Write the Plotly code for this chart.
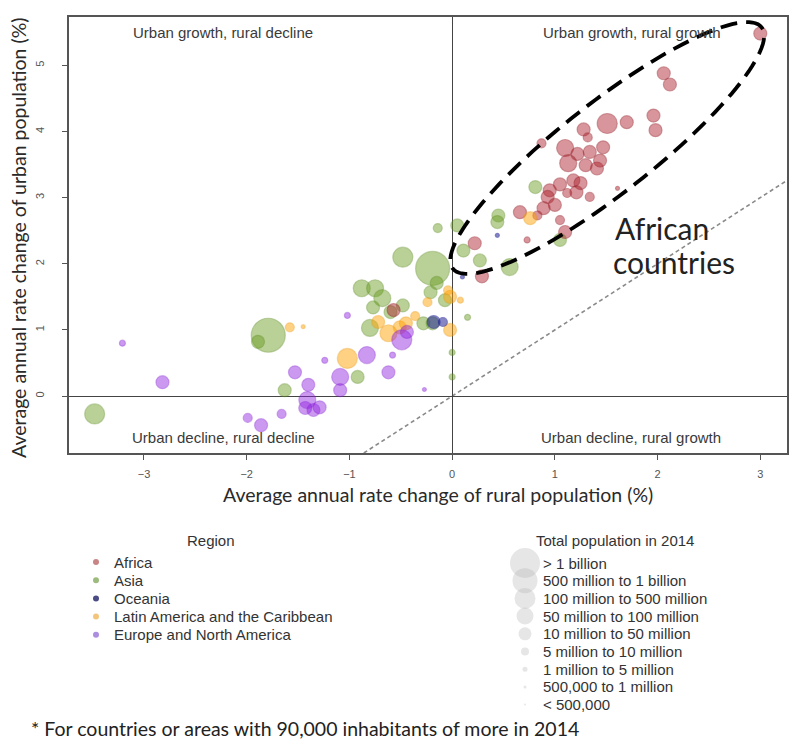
import math
import plotly.graph_objects as go

# ---------------------------------------------------------------------------
# Average annual rate of change of rural (x) and urban (y) population, %.
# Each country also carries a population-size class (index into size_labels).
# ---------------------------------------------------------------------------
africa_rural = [3.00, 2.06, 2.12, 1.96, 1.98, 1.51, 1.70, 1.28, 1.32, 0.87, 1.10, 1.22, 1.13,
                1.34, 1.44, 1.41, 1.30, 1.18, 1.05, 1.25, 1.21, 0.95, 1.12, 0.93, 1.00, 0.89,
                0.66, 1.10, 0.22, 0.29, -0.57, 1.05, 1.34, 0.83, 0.73, 1.47, 1.61]
africa_urban = [5.48, 4.88, 4.71, 4.24, 4.02, 4.12, 4.14, 4.03, 3.91, 3.82, 3.75, 3.66, 3.52,
                3.69, 3.56, 3.44, 3.49, 3.26, 3.20, 3.22, 3.08, 3.11, 3.07, 3.01, 2.89, 2.84,
                2.78, 2.48, 2.31, 1.81, 1.30, 2.66, 3.01, 2.73, 2.36, 3.76, 3.14]
africa_size = [4, 4, 4, 4, 4, 2, 4, 4, 5, 5, 3, 4, 3,
               4, 4, 4, 4, 4, 4, 4, 4, 4, 5, 4, 4, 4,
               4, 4, 4, 4, 4, 5, 5, 5, 6, 4, 7]

asia_rural = [-3.48, -1.79, -1.89, -0.19, -0.48, -0.88, -0.75, -0.68, -0.77, -0.80, -0.28,
              -0.19, -0.21, -0.15, -0.14, 0.05, 0.81, 0.45, 0.44, 0.27, 0.56, 1.05, 0.00,
              0.00, -1.63, -0.92, -0.48, 0.11, -0.07, -0.60, 0.15]
asia_urban = [-0.27, 0.92, 0.82, 1.93, 2.10, 1.63, 1.63, 1.48, 1.34, 1.03, 1.10,
              1.10, 1.57, 1.71, 2.54, 2.58, 3.16, 2.73, 2.63, 2.05, 1.95, 2.36, 0.66,
              0.29, 0.09, 0.29, 1.37, 2.20, 1.45, 1.27, 1.19]
asia_size = [2, 0, 4, 0, 2, 3, 3, 3, 4, 3, 4,
             4, 4, 4, 5, 4, 4, 4, 4, 4, 3, 4, 6,
             6, 4, 4, 4, 4, 4, 4, 6]

oceania_rural = [-0.18, -0.09, 0.44, 0.10]
oceania_urban = [1.12, 1.12, 2.43, 1.80]
oceania_size = [4, 5, 7, 7]

latam_rural = [-1.58, -1.02, -0.51, -0.45, -0.24, -0.02, -0.02, 0.76, -0.04, -0.72, -0.36,
               -0.62, 0.08, -1.45]
latam_urban = [1.04, 0.57, 1.04, 1.10, 1.42, 1.50, 1.00, 2.69, 1.60, 1.12, 1.21,
               0.95, 1.45, 1.05]
latam_size = [5, 2, 4, 4, 5, 4, 4, 4, 5, 4, 5,
              3, 6, 7]

europe_rural = [-2.82, -1.99, -1.86, -1.53, -1.40, -1.41, -1.35, -1.43, -1.66, -1.09, -1.09,
                -0.83, -0.49, -0.44, -0.62, -0.58, -1.24, -1.02, -3.21, -1.29, -0.27]
europe_urban = [0.21, -0.33, -0.44, 0.36, 0.17, -0.06, -0.21, -0.18, -0.27, 0.29, 0.09,
                0.62, 0.85, 0.97, 0.36, 0.62, 0.54, 1.22, 0.80, -0.17, 0.10]
europe_size = [4, 5, 4, 4, 4, 3, 4, 4, 5, 3, 4,
               3, 2, 4, 4, 6, 6, 6, 6, 4, 7]

region_names = ["Africa", "Asia", "Oceania", "Latin America and the Caribbean",
                "Europe and North America"]
size_labels = ["> 1 billion", "500 million to 1 billion", "100 million to 500 million",
               "50 million to 100 million", "10 million to 50 million", "5 million to 10 million",
               "1 million to 5 million", "500,000 to 1 million", "< 500,000"]
x_ticks = [-3, -2, -1, 0, 1, 2, 3]
y_ticks = [0, 1, 2, 3, 4, 5]

# ---------------------------------------------------------------------------
# Styling
# ---------------------------------------------------------------------------
W, H = 795, 742
X_RANGE = [-3.73, 3.26]
Y_RANGE = [-0.86, 5.73]
X_DOM = [69 / W, 787 / W]
Y_DOM = [1 - 453 / H, 1 - 17 / H]

marker_px = [34, 28, 20, 17, 13, 9, 6, 4, 3]   # diameter per size class
fills = {
    "Africa": "rgba(172,30,42,0.66)",
    "Asia": "rgba(105,155,30,0.66)",
    "Oceania": "rgba(35,35,150,0.78)",
    "Latin America and the Caribbean": "rgba(255,165,10,0.72)",
    "Europe and North America": "rgba(145,35,225,0.66)",
}
edges = {
    "Africa": "rgba(150,30,40,0.6)",
    "Asia": "rgba(90,140,30,0.5)",
    "Oceania": "rgba(35,35,150,0.7)",
    "Latin America and the Caribbean": "rgba(235,150,10,0.5)",
    "Europe and North America": "rgba(130,30,210,0.5)",
}
key_dots = {
    "Africa": "#c98585",
    "Asia": "#9dbb7e",
    "Oceania": "#4c4c86",
    "Latin America and the Caribbean": "#f3c57c",
    "Europe and North America": "#ab8ee0",
}
ARIAL = "Liberation Sans, Arial, sans-serif"
HUMANIST = "Lato, Open Sans, sans-serif"
INK = "#333333"
FRAME = "#555555"

series = [
    ("Asia", asia_rural, asia_urban, asia_size),
    ("Africa", africa_rural, africa_urban, africa_size),
    ("Latin America and the Caribbean", latam_rural, latam_urban, latam_size),
    ("Europe and North America", europe_rural, europe_urban, europe_size),
    ("Oceania", oceania_rural, oceania_urban, oceania_size),
]

fig = go.Figure()

for name, xs, ys, cls in series:
    fig.add_trace(go.Scatter(
        x=xs, y=ys, mode="markers", name=name,
        marker=dict(size=[marker_px[c] for c in cls], color=fills[name],
                    line=dict(color=edges[name], width=1.2)),
        xaxis="x", yaxis="y", showlegend=False, hoverinfo="skip",
    ))

# reference line urban = rural
lo = max(X_RANGE[0], Y_RANGE[0])
hi = min(X_RANGE[1], Y_RANGE[1])
fig.add_shape(type="line", xref="x", yref="y", x0=lo, y0=lo, x1=hi, y1=hi,
              line=dict(color="#8a8a8a", width=1.6, dash="4px,3px"), layer="below")

# dashed ellipse around the African cluster (shape given in screen pixels)
ux = W * (X_DOM[1] - X_DOM[0]) / (X_RANGE[1] - X_RANGE[0])
uy = H * (Y_DOM[1] - Y_DOM[0]) / (Y_RANGE[1] - Y_RANGE[0])
ell_cx, ell_cy = 1.51, 3.75
ell_a, ell_b, ell_rot = 196, 45.5, math.radians(38)
pts = []
for i in range(121):
    t = 2 * math.pi * i / 120
    dx = ell_a * math.cos(t) * math.cos(ell_rot) - ell_b * math.sin(t) * math.sin(ell_rot)
    dy = ell_a * math.cos(t) * math.sin(ell_rot) + ell_b * math.sin(t) * math.cos(ell_rot)
    pts.append((ell_cx + dx / ux, ell_cy + dy / uy))
path = "M " + " L ".join(f"{px:.4f},{py:.4f}" for px, py in pts) + " Z"
fig.add_shape(type="path", xref="x", yref="y", path=path,
              line=dict(color="black", width=3.8, dash="17px,9px"), layer="above")

# ---------------------------------------------------------------------------
# Keys, drawn on a page-sized helper axis (units = pixels)
# ---------------------------------------------------------------------------
REG_X, REG_TXT_X, REG_Y0, REG_STEP = 96, 112, 562, 18.2
SIZE_X, SIZE_TXT_X, SIZE_Y0, SIZE_STEP = 525, 541, 563, 17.7
key_sizes = [30, 25, 21, 17, 13, 8, 5, 3, 2]

fig.add_trace(go.Scatter(
    x=[REG_X] * len(region_names),
    y=[REG_Y0 + i * REG_STEP for i in range(len(region_names))],
    mode="markers", marker=dict(size=6, color=[key_dots[n] for n in region_names]),
    xaxis="x2", yaxis="y2", showlegend=False, hoverinfo="skip", cliponaxis=False,
))
fig.add_trace(go.Scatter(
    x=[SIZE_X] * len(size_labels),
    y=[SIZE_Y0 + i * SIZE_STEP for i in range(len(size_labels))],
    mode="markers",
    marker=dict(size=key_sizes, color="rgba(175,175,175,0.45)", line=dict(width=0)),
    xaxis="x2", yaxis="y2", showlegend=False, hoverinfo="skip", cliponaxis=False,
))


def note(x, y, text, size=15, family=ARIAL, color=INK, xanchor="center", **kw):
    fig.add_annotation(x=x, y=y, xref="x2", yref="y2", text=text, showarrow=False,
                       xanchor=xanchor, yanchor="middle",
                       font=dict(family=family, size=size, color=color), **kw)


note(211, 540, "Region")
for i, n in enumerate(region_names):
    note(REG_TXT_X, REG_Y0 + i * REG_STEP, n, xanchor="left")
note(615, 540, "Total population in 2014")
for i, s in enumerate(size_labels):
    note(SIZE_TXT_X, SIZE_Y0 + i * SIZE_STEP, s, xanchor="left")

# quadrant captions
note(223, 32, "Urban growth, rural decline", color="#3a3a3a")
note(632, 32, "Urban growth, rural growth", color="#3a3a3a")
note(223, 437, "Urban decline, rural decline", color="#3a3a3a")
note(631, 437, "Urban decline, rural growth", color="#3a3a3a")

# call-out
note(613, 228, "African", size=30, family=HUMANIST, color="#222222", xanchor="left")
note(611, 262, "countries", size=30, family=HUMANIST, color="#222222", xanchor="left")

# axis titles
note(438, 494, "Average annual rate change of rural population (%)", size=19.5,
     family=HUMANIST, color="#2a2a2a")
note(18, 238, "Average annual rate change of urban population (%)", size=19.5,
     family=HUMANIST, color="#2a2a2a", textangle=-90)

# footnote
note(29, 728, "* For countries or areas with 90,000 inhabitants of more in 2014", size=19.5,
     family=HUMANIST, color="#222222", xanchor="left")

axis_common = dict(showgrid=False, ticks="outside", ticklen=5, tickcolor=FRAME, tickwidth=1,
                   showline=True, mirror=True, linecolor=FRAME, linewidth=1.5,
                   zeroline=True, zerolinecolor="#444444", zerolinewidth=1.3,
                   tickfont=dict(family=ARIAL, size=11, color="#555555"))

fig.update_layout(
    width=W, height=H, margin=dict(l=0, r=0, t=0, b=0),
    paper_bgcolor="white", plot_bgcolor="rgba(0,0,0,0)", showlegend=False,
    xaxis=dict(domain=X_DOM, range=X_RANGE, tickvals=x_ticks, anchor="y",
               ticklabelstandoff=5, **axis_common),
    yaxis=dict(domain=Y_DOM, range=Y_RANGE, tickvals=y_ticks, anchor="x",
               tickangle=-90, ticklabelstandoff=14, **axis_common),
    xaxis2=dict(domain=[0, 1], range=[0, W], visible=False, anchor="y2", fixedrange=True),
    yaxis2=dict(domain=[0, 1], range=[H, 0], visible=False, anchor="x2", fixedrange=True),
)

fig.write_html("out.html")
